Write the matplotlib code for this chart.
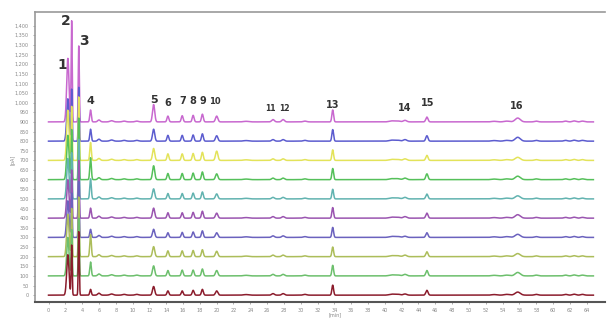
import numpy as np
import matplotlib
matplotlib.use("Agg")
import matplotlib.pyplot as plt

# retention times (min) of the numbered peaks
peak_times = [2.3, 2.75, 3.6, 5.0, 12.5, 14.2, 15.9, 17.2, 18.3, 20.0,
              26.7, 27.9, 33.8, 42.4, 45.0, 55.8]
peak_widths = [0.14, 0.06, 0.06, 0.09, 0.13, 0.11, 0.11, 0.11, 0.11, 0.14,
               0.16, 0.16, 0.1, 0.2, 0.13, 0.3]

# peak heights (pA) per run, bottom run first
heights = [
    [210, 260, 330, 30, 45, 22, 22, 25, 30, 22, 8, 8, 52, 6, 25, 16],
    [200, 240, 300, 72, 52, 28, 30, 30, 36, 28, 8, 8, 55, 8, 28, 18],
    [220, 250, 310, 115, 52, 30, 30, 32, 36, 28, 8, 8, 50, 8, 25, 16],
    [190, 230, 290, 42, 42, 24, 26, 28, 34, 24, 8, 8, 52, 6, 24, 16],
    [200, 250, 300, 52, 52, 28, 28, 30, 36, 26, 8, 8, 55, 8, 26, 18],
    [210, 240, 310, 104, 52, 28, 28, 30, 36, 26, 8, 8, 50, 8, 25, 16],
    [230, 260, 320, 114, 72, 32, 32, 34, 40, 30, 8, 8, 58, 8, 30, 18],
    [260, 280, 330, 93, 62, 34, 34, 36, 42, 48, 8, 8, 55, 8, 26, 16],
    [220, 270, 280, 62, 62, 30, 30, 32, 38, 28, 8, 8, 60, 8, 28, 20],
    [330, 525, 395, 62, 90, 30, 32, 34, 40, 30, 12, 12, 62, 8, 25, 20],
]

# small unlabelled bumps on the baseline (time, height, width)
minor_times = [6.0, 7.5, 9.0, 10.5, 23.5, 30.5, 40.8, 41.5, 53.0, 54.5, 58.0, 61.5, 62.5, 63.5]
minor_heights = [10, 6, 4, 4, 3, 4, 5, 5, 3, 4, 4, 4, 5, 4]
minor_widths = [0.15, 0.2, 0.2, 0.2, 0.3, 0.2, 0.3, 0.3, 0.3, 0.3, 0.2, 0.2, 0.2, 0.2]

offset = 100
colors = ['#8b1c2c', '#6cbf6c', '#acbd5a', '#6b62be', '#9a55b0',
          '#62b3b0', '#55c05a', '#e3e35a', '#5c5ccf', '#c868cf']

# peak labels and their positions (min, pA)
labels = ['1', '2', '3', '4', '5', '6', '7', '8', '9', '10', '11', '12',
          '13', '14', '15', '16']
label_x = [1.7, 2.05, 4.2, 5.0, 12.5, 14.2, 16.0, 17.2, 18.4, 19.8,
           26.4, 28.1, 33.8, 42.4, 45.1, 55.7]
label_y = [1195, 1425, 1320, 1010, 1015, 1000, 1010, 1010, 1010, 1005,
           970, 970, 990, 970, 1000, 980]
label_size = [10, 10, 10, 8, 8, 7, 7, 7, 7, 6, 5.5, 5.5, 7, 7, 7, 7]

t = np.linspace(0, 64.8, 6000)

fig = plt.figure(figsize=(6.15, 3.2), dpi=100)
ax = fig.add_axes([0.057, 0.056, 0.927, 0.906])

for i, (h, c) in enumerate(zip(heights, colors)):
    y = np.full_like(t, i * offset)
    for pt, ph, pw in zip(peak_times, h, peak_widths):
        y += ph * np.exp(-0.5 * ((t - pt) / pw) ** 2)
    for mt, mh, mw in zip(minor_times, minor_heights, minor_widths):
        y += mh * np.exp(-0.5 * ((t - mt) / mw) ** 2)
    ax.plot(t, y, color=c, lw=1.1, zorder=10 - i * 0.1)

for lab, lx, ly, fs in zip(labels, label_x, label_y, label_size):
    ax.text(lx, ly, lab, ha='center', va='center', fontsize=fs,
            fontweight='bold', color='#333333')

ax.set_xlim(-1.6, 66.2)
ax.set_ylim(-36, 1470)
ax.set_xticks(np.arange(0, 65, 2))
ax.set_yticks(np.arange(0, 1401, 50))
ax.set_yticklabels([f'{v:,}' for v in range(0, 1401, 50)])
ax.tick_params(labelsize=3.5, colors='#888888', length=1.5, width=0.5, pad=3)
ax.spines['right'].set_visible(False)
for s in ['left', 'top']:
    ax.spines[s].set_color('#999999')
    ax.spines[s].set_linewidth(1.2)
ax.spines['bottom'].set_color('#555555')
ax.spines['bottom'].set_linewidth(1.5)

fig.text(0.022, 0.5, '[pA]', rotation=90, fontsize=3.5, color='#888888',
         ha='center', va='center')
fig.text(0.545, 0.008, '[min]', fontsize=3.5, color='#888888', ha='center', va='bottom')

fig.savefig('out.png', dpi=100)
